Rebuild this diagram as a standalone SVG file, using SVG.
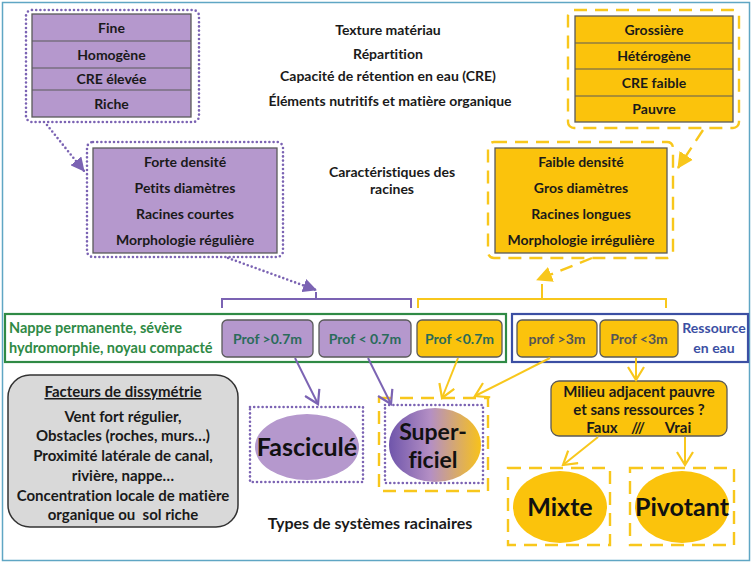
<svg xmlns="http://www.w3.org/2000/svg" width="753" height="564" viewBox="0 0 753 564">
<defs>
<style>
text{font-family:Lato,"Liberation Sans",Arial,sans-serif;font-weight:bold;text-anchor:middle;fill:#1a1a1a;white-space:pre;font-variant-ligatures:none}
.t12{font-size:14px}
.t15{font-size:15px}
.big{font-size:25px;fill:#111}
.pfill{fill:#b598cd;stroke:#5a5a5a;stroke-width:1.3}
.yfill{fill:#fbc30c;stroke:#5a5a5a;stroke-width:1.3}
.pdot{fill:none;stroke:#7b63b3;stroke-width:2.6;stroke-dasharray:0 4.2;stroke-linecap:round}
.ydash{fill:none;stroke:#f8c71c;stroke-width:2.4;stroke-dasharray:13 8}
.sep{stroke:#5a5a5a;stroke-width:1.2}
.pline{fill:none;stroke:#7b63b3;stroke-width:2}
.yline{fill:none;stroke:#f8c71c;stroke-width:2}
</style>
<marker id="pTri" markerUnits="userSpaceOnUse" markerWidth="14" markerHeight="14" viewBox="0 0 14 14" refX="13" refY="7" orient="auto">
<path d="M0,0 L14,7 L0,14 Z" fill="#7b63b3"/>
</marker>
<marker id="yTri" markerUnits="userSpaceOnUse" markerWidth="16" markerHeight="16" viewBox="0 0 16 16" refX="15" refY="8" orient="auto">
<path d="M0,0 L16,8 L0,16 Z" fill="#f8c71c"/>
</marker>
<marker id="pV" markerUnits="userSpaceOnUse" markerWidth="16" markerHeight="18" viewBox="0 0 16 18" refX="14" refY="9" orient="auto">
<path d="M1,1 L14,9 L1,17" fill="none" stroke="#7b63b3" stroke-width="2.2"/>
</marker>
<marker id="yV" markerUnits="userSpaceOnUse" markerWidth="16" markerHeight="18" viewBox="0 0 16 18" refX="14" refY="9" orient="auto">
<path d="M1,1 L14,9 L1,17" fill="none" stroke="#f8c71c" stroke-width="2.2"/>
</marker>
<linearGradient id="grad" x1="0" y1="0" x2="1" y2="0">
<stop offset="0" stop-color="#6f55ab"/>
<stop offset="0.45" stop-color="#b48fc4"/>
<stop offset="1" stop-color="#f8c21a"/>
</linearGradient>
</defs>

<rect x="2.5" y="2.5" width="747" height="558" fill="#ffffff" stroke="#5fa6c4" stroke-width="1.5"/>

<g id="soil-labels">
<text class="t12" x="388" y="35">Texture matériau</text>
<text class="t12" x="388" y="59">Répartition</text>
<text class="t12" x="388" y="81">Capacité de rétention en eau (CRE)</text>
<text class="t12" x="390" y="106">Éléments nutritifs et matière organique</text>
</g>
<g id="root-char-label">
<text class="t12" x="392" y="177">Caractéristiques des</text>
<text class="t12" x="392" y="194">racines</text>
</g>

<g id="soil-fine">
<rect x="26" y="10" width="173" height="112" rx="6" class="pdot"/>
<rect x="32" y="14" width="159" height="103" class="pfill"/>
<line x1="32" y1="41" x2="191" y2="41" class="sep"/>
<line x1="32" y1="68" x2="191" y2="68" class="sep"/>
<line x1="32" y1="90" x2="191" y2="90" class="sep"/>
<text class="t12" x="111.5" y="33">Fine</text>
<text class="t12" x="111.5" y="60">Homogène</text>
<text class="t12" x="111.5" y="84">CRE élevée</text>
<text class="t12" x="111.5" y="109">Riche</text>
</g>

<g id="soil-coarse">
<rect x="568" y="10" width="171" height="118" rx="6" class="ydash"/>
<rect x="575" y="16" width="158" height="106" class="yfill"/>
<line x1="575" y1="43" x2="733" y2="43" class="sep"/>
<line x1="575" y1="69" x2="733" y2="69" class="sep"/>
<line x1="575" y1="96" x2="733" y2="96" class="sep"/>
<text class="t12" x="654" y="35">Grossière</text>
<text class="t12" x="654" y="61">Hétérogène</text>
<text class="t12" x="654" y="88">CRE faible</text>
<text class="t12" x="654" y="114">Pauvre</text>
</g>

<g id="roots-fine">
<rect x="87" y="142" width="196" height="115" rx="6" class="pdot"/>
<rect x="93" y="148" width="184" height="105" class="pfill"/>
<text class="t12" x="185" y="167">Forte densité</text>
<text class="t12" x="185" y="193">Petits diamètres</text>
<text class="t12" x="185" y="219">Racines courtes</text>
<text class="t12" x="185" y="245">Morphologie régulière</text>
</g>

<g id="roots-coarse">
<rect x="488" y="142" width="185" height="116" rx="6" class="ydash"/>
<rect x="495" y="148" width="172" height="105" class="yfill"/>
<text class="t12" x="581" y="167">Faible densité</text>
<text class="t12" x="581" y="193">Gros diamètres</text>
<text class="t12" x="581" y="219">Racines longues</text>
<text class="t12" x="581" y="245">Morphologie irrégulière</text>
</g>

<g id="nappe">
<rect x="5" y="314" width="501" height="48" fill="none" stroke="#2f8a45" stroke-width="2.2"/>
<text x="9" y="333" style="font-size:14.5px;text-anchor:start;fill:#2f8a45">Nappe permanente, sévère</text>
<text x="9" y="353" style="font-size:14.5px;text-anchor:start;fill:#2f8a45">hydromorphie, noyau compacté</text>
</g>

<g id="ressource">
<rect x="512" y="314" width="236" height="48" fill="none" stroke="#3b4fa3" stroke-width="2.2"/>
<text class="t12" x="714" y="333" style="fill:#3b4fa3">Ressource</text>
<text class="t12" x="714" y="353" style="fill:#3b4fa3">en eau</text>
</g>

<g id="prof-p1">
<rect x="222" y="320" width="91" height="37" rx="5" class="pfill"/>
<text class="t12" x="267.5" y="343.5" style="fill:#2a6b5a">Prof &gt;0.7m</text>
</g>
<g id="prof-p2">
<rect x="319" y="320" width="92" height="37" rx="5" class="pfill"/>
<text class="t12" x="365" y="343.5" style="fill:#2a6b5a">Prof &lt; 0.7m</text>
</g>
<g id="prof-y1">
<rect x="417" y="320" width="85" height="37" rx="5" class="yfill"/>
<text class="t12" x="459.5" y="343.5" style="fill:#2a6b5a">Prof &lt;0.7m</text>
</g>
<g id="prof-y2">
<rect x="517" y="320" width="80" height="37" rx="5" class="yfill"/>
<text class="t12" x="557" y="343.5" style="fill:#555">prof &gt;3m</text>
</g>
<g id="prof-y3">
<rect x="600" y="320" width="78" height="37" rx="5" class="yfill"/>
<text class="t12" x="639" y="343.5" style="fill:#555">Prof &lt;3m</text>
</g>

<g id="dissymetrie">
<rect x="8" y="375" width="230" height="152" rx="22" fill="#d9d9d9" stroke="#333" stroke-width="1.5"/>
<text class="t15" x="123" y="397" style="text-decoration:underline">Facteurs de dissymétrie</text>
<text class="t15" x="123" y="422">Vent fort régulier,</text>
<text class="t15" x="123" y="441">Obstacles (roches, murs…)</text>
<text class="t15" x="123" y="461">Proximité latérale de canal,</text>
<text class="t15" x="123" y="481">rivière, nappe…</text>
<text class="t15" x="123" y="501">Concentration locale de matière</text>
<text class="t15" x="123" y="520">organique ou  sol riche</text>
</g>

<g id="fascicule">
<rect x="250" y="407" width="113" height="75" class="pdot"/>
<ellipse cx="307" cy="447" rx="52" ry="33" fill="#b598cd"/>
<text class="big" x="307" y="456">Fasciculé</text>
</g>

<g id="superficiel">
<rect x="379" y="398" width="109" height="93" class="ydash"/>
<rect x="385" y="405" width="98" height="78" class="pdot"/>
<ellipse cx="435" cy="445" rx="46" ry="37" fill="url(#grad)"/>
<text class="big" x="433" y="440" style="font-size:23px">Super-</text>
<text class="big" x="433" y="468" style="font-size:23px">ficiel</text>
</g>

<g id="milieu">
<rect x="551" y="381" width="176" height="55" rx="8" class="yfill"/>
<text class="t15" x="639" y="397">Milieu adjacent pauvre</text>
<text class="t15" x="639" y="415">et sans ressources ?</text>
<text class="t15" x="602" y="433">Faux</text>
<text class="t15" x="638" y="433">///</text>
<text class="t15" x="678" y="433">Vrai</text>
</g>

<g id="mixte">
<rect x="508" y="468" width="102" height="77" class="ydash"/>
<ellipse cx="560" cy="507" rx="47" ry="36" fill="#fbc30c"/>
<text class="big" x="560" y="516">Mixte</text>
</g>

<g id="pivotant">
<rect x="630" y="468" width="104" height="77" class="ydash"/>
<ellipse cx="682" cy="507" rx="47" ry="36" fill="#fbc30c"/>
<text class="big" x="682" y="516">Pivotant</text>
</g>

<g id="types-label">
<text x="370" y="529" style="font-size:16px">Types de systèmes racinaires</text>
</g>

<g id="connectors">
<path d="M222,308 V299 H411 V308 M316,299 V292" class="pline"/>
<path d="M418,308 V299 H666 V308 M542,299 V284" class="yline"/>
<path d="M47,125 L84,171" class="pdot" marker-end="url(#pTri)"/>
<path d="M228,258 L316,290" class="pdot" marker-end="url(#pTri)"/>
<path d="M703,130 L678,168" class="ydash" marker-end="url(#yTri)"/>
<path d="M592,258 L537,280" class="ydash" marker-end="url(#yTri)"/>
<path d="M295,358 L318,404" class="pline" marker-end="url(#pV)"/>
<path d="M368,358 L391,404" class="pline" marker-end="url(#pV)"/>
<path d="M458,358 L442,398" class="yline" marker-end="url(#yV)"/>
<path d="M550,358 L475,396" class="yline" marker-end="url(#yV)"/>
<path d="M636,358 V380" class="yline" marker-end="url(#yV)"/>
<path d="M598,437 L563,465" class="yline" marker-end="url(#yV)"/>
<path d="M685,437 V465" class="yline" marker-end="url(#yV)"/>
</g>
</svg>
